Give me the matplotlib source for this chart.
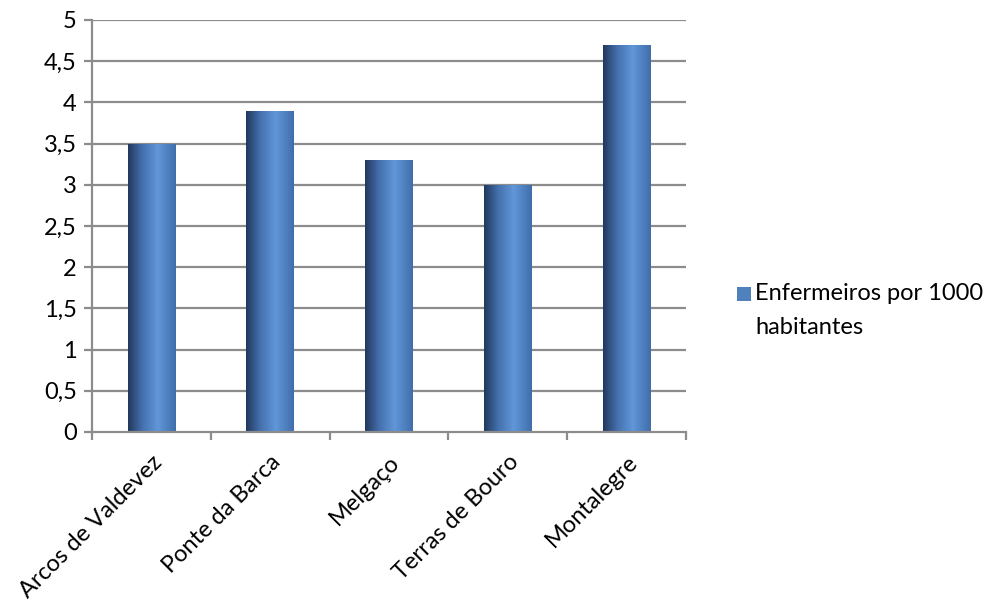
import numpy as np
import matplotlib
matplotlib.use("Agg")
import matplotlib.pyplot as plt
from matplotlib.patches import Rectangle
from matplotlib.colors import LinearSegmentedColormap

categories = ["Arcos de Valdevez", "Ponte da Barca", "Melgaço", "Terras de Bouro", "Montalegre"]
values = [3.5, 3.9, 3.3, 3.0, 4.7]
series_name = "Enfermeiros por 1000\nhabitantes"
yticks = [0, 0.5, 1, 1.5, 2, 2.5, 3, 3.5, 4, 4.5, 5]
ytick_labels = ["0", "0,5", "1", "1,5", "2", "2,5", "3", "3,5", "4", "4,5", "5"]

plt.rcParams['font.family'] = ['Lato', 'DejaVu Sans']
FS = 17

W, H = 998, 603
fig = plt.figure(figsize=(W / 100, H / 100), dpi=100)
ax = fig.add_axes([92 / W, 1 - 432 / H, (686 - 92) / W, (432 - 20) / H])

n = len(categories)
x = np.arange(n)
width = 0.40
ax.set_xlim(-0.5, n - 0.5)
ax.set_ylim(0, 5)

grid_c = "#8c8c8c"
for yv in yticks[1:]:
    ax.axhline(yv, color=grid_c, lw=1.6, zorder=1)

cmap = LinearSegmentedColormap.from_list("bar", [
    (0.0, (0.13, 0.22, 0.36)),
    (0.30, (0.27, 0.44, 0.68)),
    (0.62, (0.38, 0.59, 0.85)),
    (1.0, (0.25, 0.43, 0.67)),
])
grad = np.linspace(0, 1, 256).reshape(1, -1)
bars = ax.bar(x, values, width=width, color="none", edgecolor="none", zorder=2)
for b in bars:
    x0, y0 = b.get_x(), b.get_y()
    w, h = b.get_width(), b.get_height()
    im = ax.imshow(grad, cmap=cmap, aspect="auto", extent=(x0, x0 + w, y0, y0 + h),
                   zorder=3, interpolation="bilinear")
    clip = Rectangle((x0, y0), w, h, transform=ax.transData)
    im.set_clip_path(clip)
ax.set_xlim(-0.5, n - 0.5)
ax.set_ylim(0, 5)

for s in ["top", "right"]:
    ax.spines[s].set_visible(False)
for s in ["left", "bottom"]:
    ax.spines[s].set_color(grid_c)
    ax.spines[s].set_linewidth(1.6)
    ax.spines[s].set_zorder(4)

ax.set_yticks(yticks)
ax.set_yticklabels(ytick_labels)
ax.tick_params(axis="y", direction="out", length=6, width=1.6, color=grid_c,
               labelsize=FS, pad=5, labelcolor="black")

ax.set_xticks(np.arange(n + 1) - 0.5)
ax.set_xticklabels([])
ax.tick_params(axis="x", direction="out", length=6, width=1.6, color=grid_c)
ax.set_xticks(x, minor=True)
ax.set_xticklabels(categories, minor=True, rotation=45, ha="right", va="top",
                   rotation_mode="anchor", fontsize=FS)
ax.tick_params(axis="x", which="minor", length=0, pad=14)

# legend
fig.patches.append(Rectangle((737 / W, 1 - 301 / H), 14 / W, 14 / H,
                             transform=fig.transFigure, facecolor="#4f81bd",
                             edgecolor="none"))
fig.text(755 / W, 1 - 294 / H, "Enfermeiros por 1000", fontsize=FS, va="center", ha="left")
fig.text(755 / W, 1 - 327 / H, "habitantes", fontsize=FS, va="center", ha="left")

fig.savefig("out.png", dpi=100, facecolor="white")
